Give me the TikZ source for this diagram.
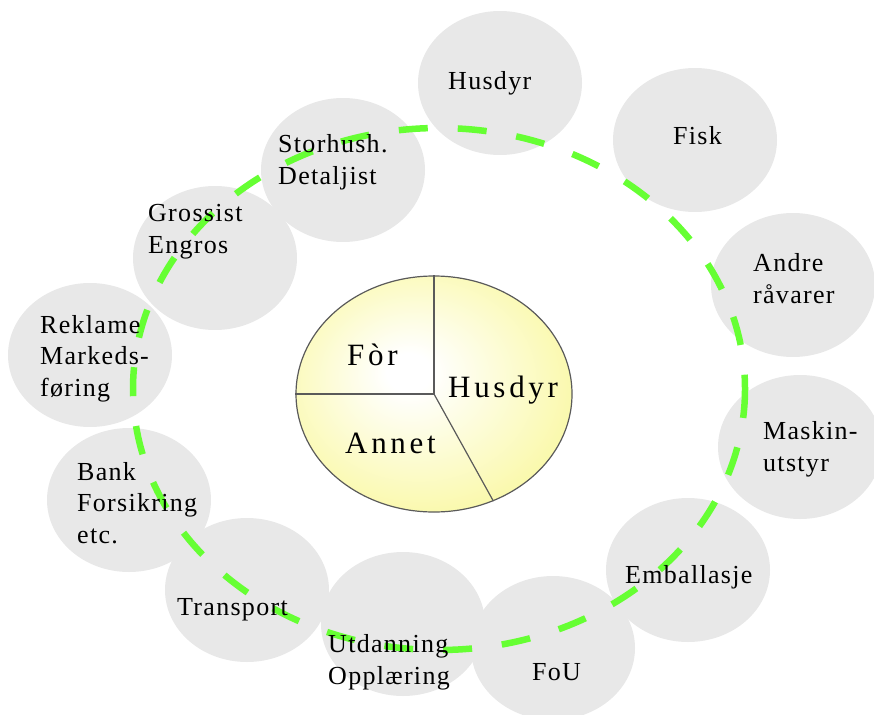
\documentclass[tikz,border=0pt]{standalone}
\usepackage{fontspec}
\setmainfont{Liberation Serif}
\newfontfamily\lblfont[LetterSpace=5]{Liberation Serif}
\newfontfamily\piefont[LetterSpace=12]{Liberation Serif}
\usetikzlibrary{shapes.geometric}
\definecolor{bubblegray}{RGB}{232,232,232}
\definecolor{ringgreen}{RGB}{102,255,51}
\definecolor{piey}{RGB}{248,246,135}
\definecolor{pieedge}{RGB}{90,90,90}
\pgfdeclareradialshading{pieshade}{\pgfpoint{-5bp}{5bp}}{color(0bp)=(white); color(4bp)=(white); color(30bp)=(piey!75!white); color(50bp)=(piey)}
\begin{document}
\begin{tikzpicture}[x=1pt, y=-1pt,
  bubble/.style={ellipse, fill=bubblegray, minimum width=164pt, minimum height=144pt, inner sep=0pt},
  lbl/.style={anchor=base west, inner sep=0pt, align=left, font=\lblfont\fontsize{26}{31.5}\selectfont},
  pielbl/.style={anchor=base west, inner sep=0pt, font=\piefont\fontsize{31}{36}\selectfont}]
\useasboundingbox (0,0) rectangle (874,714);
\node[bubble] (bhusdyr) at (500,83) {};
\node[bubble] (bfisk) at (695,140) {};
\node[bubble] (bandre) at (793,285) {};
\node[bubble] (bmaskin) at (800,447) {};
\node[bubble] (bemball) at (688,570) {};
\node[bubble] (bfou) at (553,648) {};
\node[bubble] (butdan) at (403,624) {};
\node[bubble] (btrans) at (247,590) {};
\node[bubble] (bbank) at (129,500) {};
\node[bubble] (breklame) at (90,355) {};
\node[bubble] (bgross) at (215,258) {};
\node[bubble] (bstor) at (343,170) {};
\draw[ringgreen, line width=6.5pt, dash pattern=on 29pt off 30pt] (439,389) ellipse [x radius=306, y radius=261];
\node[lbl] (lhusdyr) at (448,90) {Husdyr};
\node[lbl] (lfisk) at (673,145) {Fisk};
\node[lbl] (landre) at (753,303) {Andre\\råvarer};
\node[lbl] (lmaskin) at (763,471) {Maskin-\\utstyr};
\node[lbl] (lemball) at (625,583) {Emballasje};
\node[lbl] (lfou) at (532,680) {FoU};
\node[lbl] (lutdan) at (328,684) {Utdanning\\Opplæring};
\node[lbl] (ltrans) at (177,615) {Transport};
\node[lbl] (lbank) at (77,543) {Bank\\Forsikring\\etc.};
\node[lbl] (lreklame) at (40,396) {Reklame\\Markeds-\\føring};
\node[lbl] (lgross) at (148,253) {Grossist\\Engros};
\node[lbl] (lstor) at (278,184) {Storhush.\\Detaljist};
\node[ellipse, draw=pieedge, line width=1.2pt, shading=pieshade, minimum width=276pt, minimum height=236pt, inner sep=0pt] (pie) at (434,394) {};
\draw[pieedge, line width=1.2pt] (pie.center) -- (pie.north);
\draw[pieedge, line width=1.2pt] (pie.center) -- (pie.west);
\draw[pieedge, line width=1.2pt] (pie.center) -- (pie.-61);
\node[pielbl] (lfor) at (347,365) {Fòr};
\node[pielbl] (lannet) at (345,453) {Annet};
\node[pielbl] (lpiehusdyr) at (448,397) {Husdyr};
\end{tikzpicture}
\end{document}
